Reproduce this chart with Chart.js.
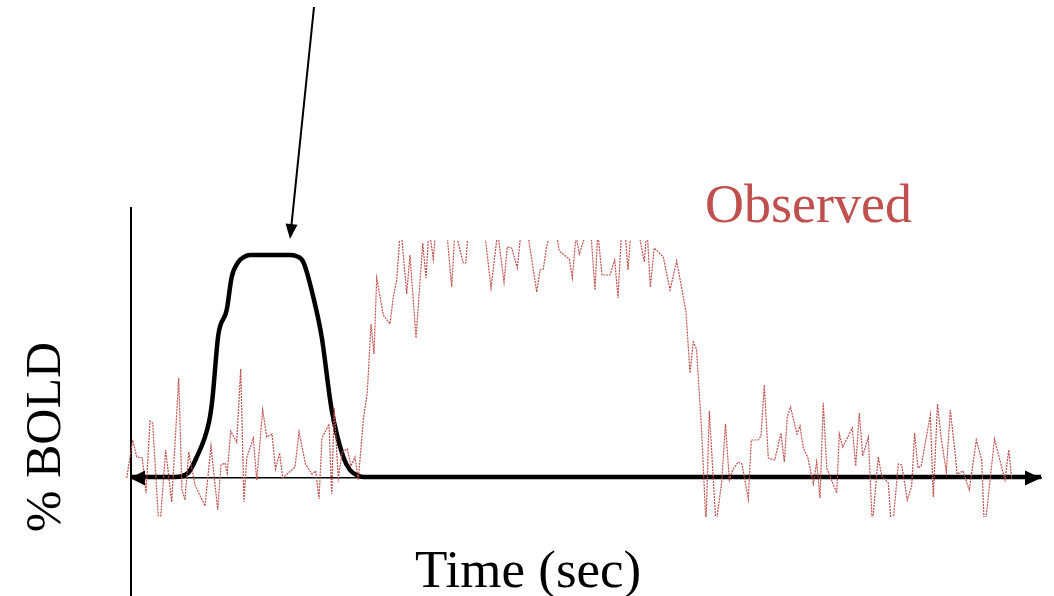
<!DOCTYPE html>
<html>
<head>
<meta charset="utf-8">
<script src="https://cdn.jsdelivr.net/npm/chart.js"></script>
<style>
  html, body { margin: 0; padding: 0; background: #fff; }
  #wrap { width: 1054px; height: 596px; }
</style>
</head>
<body>
<div id="wrap"><canvas id="bold"></canvas></div>
<script>
  // observed BOLD trace (time in scan units, signal in %)
  const obsTime = [
    -1.54, -0.86, 0.34, 1.14, 2.26, 3.0, 3.8, 4.34, 5.66, 6.94,
    8.14, 9.54, 10.2, 10.8, 11.54, 12.8, 14.8, 16.0, 17.34, 18.0,
    18.8, 19.26, 19.94, 21.14, 21.94, 22.6, 23.14, 24.46, 25.14, 26.34,
    27.14, 28.2, 28.9, 29.72, 30.34, 32.8, 33.6, 34.9, 36.2, 36.94,
    37.6, 38.2, 39.6, 40.14, 40.64, 41.46, 42.26, 43.26, 44.0, 44.8,
    45.46, 46.46, 47.26, 48.0, 48.6, 49.14, 50.46, 51.8, 52.46, 53.14,
    53.94, 55.14, 55.8, 57.0, 58.34, 59.0, 59.6, 60.46, 61.0, 62.2,
    63.0, 64.14, 64.8, 66.46, 66.94, 67.46, 69.0, 70.6, 72.0, 73.34,
    74.6, 75.26, 76.14, 77.26, 77.94, 79.0, 81.14, 81.8, 82.46, 83.1,
    84.6, 85.66, 87.66, 88.26, 89.0, 89.66, 90.8, 91.8, 92.8, 93.36,
    94.2, 95.8, 96.74, 97.4, 98.14, 98.7, 99.4, 100.0, 101.0, 102.66,
    103.2, 103.86, 104.64, 106.46, 107.8, 109.14, 111.0, 111.8, 112.46, 113.1,
    114.14, 115.0, 115.66, 117.0, 118.14, 118.9, 119.66, 120.34, 121.46, 122.2,
    123.46, 124.06, 125.46, 126.0, 126.66, 127.46, 128.74, 130.0, 130.66, 131.26,
    131.9, 133.2, 133.8, 134.46, 135.34, 136.46, 137.14, 137.8, 138.46, 139.14,
    141.14, 141.66, 142.34, 144.26, 144.94, 145.66, 146.34, 147.46, 148.26, 149.46,
    150.14, 151.46, 152.2, 153.46, 154.14, 155.26, 156.14, 156.72, 157.4, 158.04,
    159.86, 160.46, 161.3, 162.04, 163.06, 163.86, 164.8, 165.2, 166.4, 167.66,
    169.06, 170.14, 170.7, 172.7, 174.8, 175.54, 176.14
  ];
  const obsBold = [
    0.18, 0.00, 0.38, 0.21, 0.20, -0.15, 0.57, 0.55, -0.57, 0.28,
    -0.24, 1.00, -0.12, -0.22, 0.26, -0.07, -0.28, 0.32, -0.32, 0.13,
    0.15, 0.05, 0.47, 0.36, 1.09, -0.24, 0.20, 0.40, -0.02, 0.68,
    0.41, 0.44, 0.09, 0.25, 0.00, 0.11, 0.46, 0.14, 0.04, 0.07,
    -0.21, 0.40, 0.54, -0.16, 0.70, 0.00, 0.26, 0.29, 0.12, 0.21,
    -0.02, 0.58, 0.86, 1.54, 1.24, 2.00, 1.63, 1.54, 1.81, 1.98,
    2.53, 1.84, 2.23, 1.40, 2.35, 2.00, 2.50, 2.19, 2.53, 2.63,
    2.56, 1.91, 2.48, 2.15, 2.15, 2.46, 2.60, 2.52, 1.90, 2.46,
    1.96, 2.31, 2.30, 2.10, 2.43, 2.56, 1.86, 2.08, 2.09, 2.31,
    2.60, 2.27, 2.19, 2.00, 2.42, 2.24, 2.42, 2.58, 1.88, 2.46,
    2.03, 2.03, 2.18, 1.80, 2.50, 2.53, 2.08, 2.48, 2.60, 2.16,
    2.50, 1.91, 2.30, 2.21, 1.88, 2.17, 1.66, 1.05, 1.36, 1.29,
    0.46, -0.47, 0.67, -0.47, -0.04, 0.54, -0.02, 0.08, 0.16, 0.14,
    -0.21, 0.38, 0.38, 0.42, 0.93, 0.20, 0.18, 0.45, 0.16, 0.61,
    0.71, 0.44, 0.52, 0.30, 0.21, -0.06, 0.16, -0.20, 0.75, 0.10,
    -0.15, 0.44, 0.31, 0.50, 0.12, 0.65, 0.22, 0.41, -0.47, 0.21,
    0.02, -0.05, -0.57, 0.14, 0.13, -0.22, -0.08, 0.45, 0.10, 0.12,
    0.63, -0.19, 0.74, 0.40, 0.06, 0.68, 0.26, 0.04, 0.07, -0.12,
    0.38, 0.18, -0.54, 0.39, -0.02, 0.28, -0.01
  ];

  // predicted response (black curve)
  const hrfTime = [0, 8.8, 11.4, 13.06, 15.6, 16.26, 17.46, 19.14, 20.14, 21.46, 22.6, 23.8,
                   31.8, 33.0, 34.46, 36.46, 38.14, 40.14, 42.46, 43.8, 45.14, 46.46, 182];
  const hrfBold = [0.01, 0.01, 0.05, 0.20, 0.56, 0.78, 1.43, 1.68, 2.01, 2.16, 2.21, 2.23,
                   2.23, 2.22, 2.16, 1.81, 1.41, 0.68, 0.21, 0.08, 0.03, 0.01, 0.01];

  const xMax = 182;
  const yMin = -1.18;
  const yMax = 2.70;

  // pointer arrow: tail (off the top) -> tip just above the peak
  const arrowTail = [36.6, 4.71];
  const arrowTip = [31.8, 2.39];

  function head(ctx, tipX, tipY, ang, len, half) {
    ctx.beginPath();
    ctx.moveTo(tipX, tipY);
    ctx.lineTo(tipX - len * Math.cos(ang) + half * Math.sin(ang), tipY - len * Math.sin(ang) - half * Math.cos(ang));
    ctx.lineTo(tipX - len * Math.cos(ang) - half * Math.sin(ang), tipY - len * Math.sin(ang) + half * Math.cos(ang));
    ctx.closePath();
    ctx.fill();
  }

  const decor = {
    id: 'decor',
    afterDraw(chart) {
      const ctx = chart.ctx;
      const x = chart.scales.x, y = chart.scales.y;
      const y0 = y.getPixelForValue(0.01);
      ctx.save();
      ctx.fillStyle = '#000';
      ctx.strokeStyle = '#000';

      // arrow heads on both ends of the time axis
      head(ctx, x.getPixelForValue(0) - 1, y0 + 1, Math.PI, 15, 7.5);
      head(ctx, x.getPixelForValue(xMax), y0 + 1, 0, 16, 7.5);

      // pointer to the predicted peak
      const sx = x.getPixelForValue(arrowTail[0]), sy = y.getPixelForValue(arrowTail[1]);
      const tx = x.getPixelForValue(arrowTip[0]), ty = y.getPixelForValue(arrowTip[1]);
      const ang = Math.atan2(ty - sy, tx - sx);
      ctx.lineWidth = 2;
      ctx.beginPath();
      ctx.moveTo(sx, sy);
      ctx.lineTo(tx - 12 * Math.cos(ang), ty - 12 * Math.sin(ang));
      ctx.stroke();
      head(ctx, tx, ty, ang, 15, 6);

      // labels
      ctx.textBaseline = 'alphabetic';
      ctx.textAlign = 'left';
      ctx.fillStyle = '#c0504d';
      ctx.font = '54px "Liberation Serif"';
      ctx.fillText('Observed', 705, 222);

      ctx.fillStyle = '#000';
      ctx.font = '53px "Liberation Serif"';
      ctx.fillText('Time (sec)', 415, 587);

      ctx.translate(60, 437);
      ctx.rotate(-Math.PI / 2);
      ctx.textAlign = 'center';
      ctx.font = '50px "Liberation Serif"';
      ctx.fillText('% BOLD', 0, 0);
      ctx.restore();
    }
  };

  new Chart(document.getElementById('bold'), {
    type: 'line',
    data: {
      datasets: [{
        label: 'Observed',
        data: obsTime.map((t, i) => ({ x: t, y: obsBold[i] })),
        borderColor: '#c0504d',
        borderWidth: 1.2,
        borderDash: [2, 1],
        pointRadius: 0,
        tension: 0,
        clip: { left: 10, top: -32, right: 0, bottom: -79 },
        order: 0
      }, {
        label: 'Predicted',
        data: hrfTime.map((t, i) => ({ x: t, y: hrfBold[i] })),
        borderColor: '#000',
        borderWidth: 4.5,
        pointRadius: 0,
        cubicInterpolationMode: 'monotone',
        order: 1
      }]
    },
    options: {
      responsive: true,
      maintainAspectRatio: false,
      animation: false,
      layout: { padding: { left: 131, right: 13, top: 208, bottom: 0 } },
      plugins: {
        legend: { display: false },
        tooltip: { enabled: false }
      },
      scales: {
        x: {
          type: 'linear', min: 0, max: xMax,
          position: { y: 0 },
          grid: { display: false, drawTicks: false },
          ticks: { display: false },
          border: { color: '#000', width: 1.5 }
        },
        y: {
          type: 'linear', min: yMin, max: yMax,
          position: { x: 0 },
          grid: { display: false, drawTicks: false },
          ticks: { display: false },
          border: { color: '#000', width: 2 }
        }
      }
    },
    plugins: [decor]
  });
</script>
</body>
</html>
